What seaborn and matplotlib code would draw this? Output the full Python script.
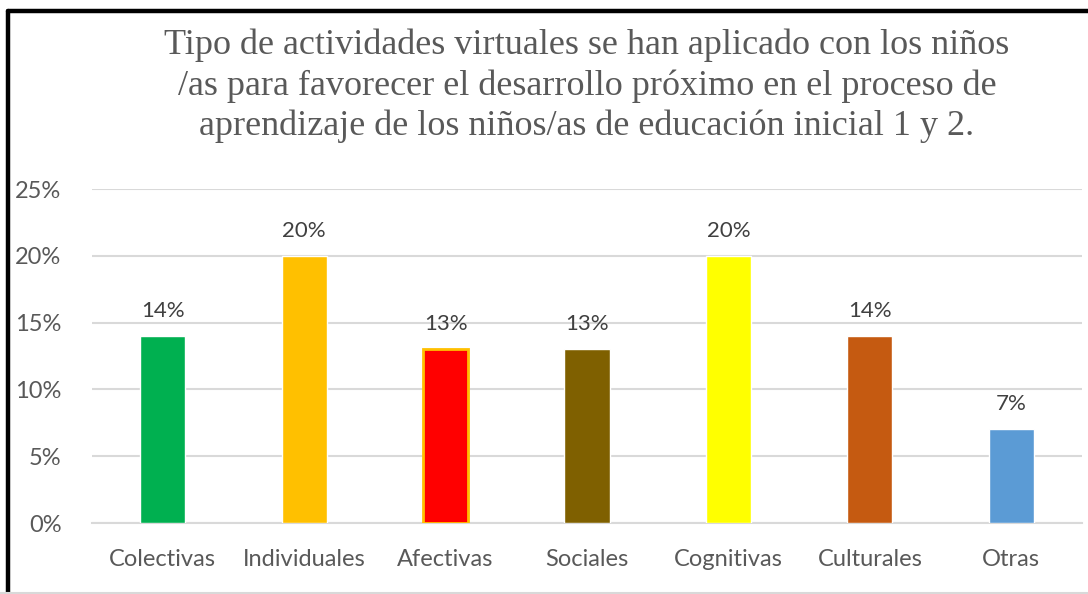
import pandas as pd
import seaborn as sns
import matplotlib.pyplot as plt
from matplotlib.lines import Line2D

categorias = ["Colectivas", "Individuales", "Afectivas", "Sociales", "Cognitivas", "Culturales", "Otras"]
porcentajes = [0.14, 0.20, 0.13, 0.13, 0.20, 0.14, 0.07]
colores = ["#00B050", "#FFC000", "#FF0000", "#7F6000", "#FFFF00", "#C55A11", "#5B9BD5"]
etiquetas_y = ["0%", "5%", "10%", "15%", "20%", "25%"]
titulo = ("Tipo de actividades virtuales se han aplicado con los niños\n"
          "/as para favorecer el desarrollo próximo en el proceso de\n"
          "aprendizaje de los niños/as de educación inicial 1 y 2.")

df = pd.DataFrame({"categoria": categorias, "valor": porcentajes})

sns.set_style("white")
plt.rcParams["font.family"] = ["Lato", "DejaVu Sans"]

W, H = 1088, 594
fig = plt.figure(figsize=(W / 100, H / 100), dpi=100)
ax = fig.add_axes([92 / W, (H - 523) / H, 990 / W, 334 / H])

sns.barplot(data=df, x="categoria", y="valor", hue="categoria", palette=colores,
            saturation=1, width=0.32, legend=False, ax=ax, zorder=3)
# borde naranja de Afectivas
ax.patches[2].set_edgecolor("#FFC000")
ax.patches[2].set_linewidth(2)

ax.set_ylim(0, 0.25)
ax.set_yticks([0, 0.05, 0.10, 0.15, 0.20, 0.25])
ax.set_yticklabels(etiquetas_y)
ax.yaxis.grid(True, color="#D9D9D9", linewidth=1.5, zorder=0)
ax.tick_params(axis="both", length=0, labelsize=17, labelcolor="#595959")
ax.tick_params(axis="y", pad=22)
ax.tick_params(axis="x", pad=19)
ax.set_xlabel("")
ax.set_ylabel("")
for s in ["top", "right", "left"]:
    ax.spines[s].set_visible(False)
ax.spines["bottom"].set_color("#D9D9D9")
ax.spines["bottom"].set_linewidth(1.5)

for i, v in enumerate(porcentajes):
    ax.annotate(f"{int(round(v * 100))}%", (i, v), xytext=(0, 11), textcoords="offset points",
                ha="center", va="bottom", fontsize=16, color="#404040")

fig.text(587 / W, 1 - 86 / H, titulo, ha="center", va="center", fontsize=26,
         family="Liberation Serif", color="#595959", linespacing=1.28)

# marco negro del recorte
fig.add_artist(Line2D([8 / W, 8 / W], [0, 1 - 11 / H], color="black", linewidth=3.2,
                      transform=fig.transFigure))
fig.add_artist(Line2D([8 / W, 1], [1 - 11 / H, 1 - 11 / H], color="black", linewidth=3.2,
                      transform=fig.transFigure))
fig.add_artist(Line2D([0, 1], [1.5 / H, 1.5 / H], color="#D9D9D9", linewidth=1.5,
                      transform=fig.transFigure))

fig.savefig("out.png", dpi=100)
